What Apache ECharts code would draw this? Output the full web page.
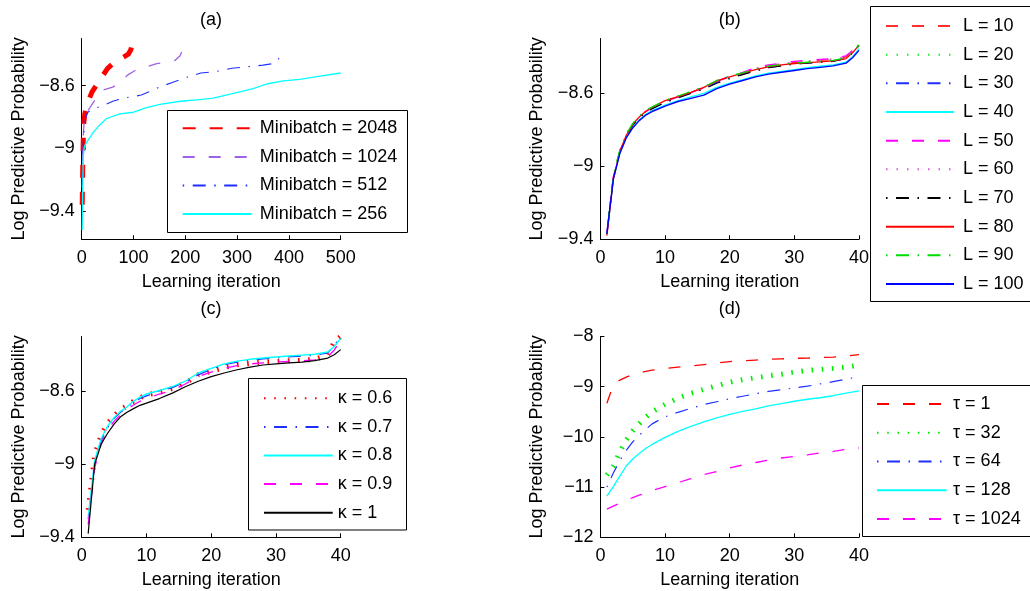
<!DOCTYPE html>
<html><head><meta charset="utf-8">
<script src="https://cdn.jsdelivr.net/npm/echarts@6/dist/echarts.min.js"></script>
<style>html,body{margin:0;padding:0;background:#fff}#c{width:1030px;height:591px}</style>
</head><body><div id="c"></div><script>
// ---------- Panel (a) ----------
const namesA = ['Minibatch = 2048','Minibatch = 1024','Minibatch = 512','Minibatch = 256'];
const iterA2048 = [1,2,3,4,6,10,15,20,30,40,50,60,70,80,90,95,98];
const valA2048  = [-9.36,-9.12,-8.95,-8.84,-8.78,-8.73,-8.68,-8.64,-8.59,-8.54,-8.49,-8.46,-8.44,-8.42,-8.40,-8.37,-8.33];
const iterA1024 = [1,2,3,5,8,12,20,30,40,50,60,70,80,90,100,110,125,145,165,180,190,196,199];
const valA1024  = [-9.25,-9.05,-8.92,-8.82,-8.78,-8.76,-8.72,-8.67,-8.63,-8.62,-8.61,-8.59,-8.56,-8.53,-8.51,-8.49,-8.48,-8.46,-8.45,-8.44,-8.41,-8.36,-8.33];
const iterA512  = [1,2,3,5,8,12,20,40,60,80,100,115,130,150,175,200,230,260,290,320,350,370,380,388];
const valA512   = [-9.30,-9.10,-8.97,-8.86,-8.80,-8.77,-8.75,-8.73,-8.70,-8.68,-8.67,-8.66,-8.64,-8.61,-8.58,-8.55,-8.52,-8.51,-8.49,-8.48,-8.47,-8.46,-8.43,-8.38];
const iterA256  = [1,2,3,5,8,12,16,22,32,48,74,100,125,151,190,228,254,293,331,357,389,421,460,500];
const valA256   = [-9.52,-9.25,-9.05,-8.99,-8.97,-8.95,-8.93,-8.90,-8.86,-8.81,-8.78,-8.77,-8.74,-8.72,-8.70,-8.69,-8.68,-8.65,-8.62,-8.59,-8.57,-8.56,-8.54,-8.52];

// ---------- Panel (b) ----------
const namesB = ['L = 10','L = 20','L = 30','L = 40','L = 50','L = 60','L = 70','L = 80','L = 90','L = 100'];
const iterB = [1,2,3,4,5,6,7,8,10,12,14,16,18,20,22,24,26,28,30,32,34,36,38,39,40];
const valB10  = [-9.37,-9.06,-8.92,-8.83,-8.77,-8.73,-8.70,-8.68,-8.645,-8.62,-8.595,-8.57,-8.535,-8.51,-8.49,-8.465,-8.45,-8.44,-8.432,-8.428,-8.42,-8.415,-8.40,-8.37,-8.33];
const valB20  = [-9.37,-9.05,-8.91,-8.82,-8.765,-8.725,-8.695,-8.675,-8.64,-8.615,-8.59,-8.565,-8.53,-8.505,-8.485,-8.465,-8.45,-8.44,-8.43,-8.425,-8.42,-8.415,-8.40,-8.37,-8.335];
const valB30  = [-9.37,-9.06,-8.92,-8.83,-8.775,-8.735,-8.705,-8.685,-8.65,-8.625,-8.60,-8.575,-8.54,-8.515,-8.495,-8.475,-8.46,-8.45,-8.44,-8.435,-8.43,-8.425,-8.41,-8.38,-8.34];
const valB40  = [-9.37,-9.07,-8.93,-8.84,-8.785,-8.745,-8.715,-8.695,-8.665,-8.64,-8.62,-8.60,-8.568,-8.545,-8.525,-8.505,-8.49,-8.48,-8.47,-8.46,-8.452,-8.445,-8.43,-8.40,-8.355];
const valB50  = [-9.37,-9.06,-8.92,-8.83,-8.77,-8.73,-8.70,-8.68,-8.645,-8.62,-8.595,-8.57,-8.535,-8.505,-8.485,-8.46,-8.445,-8.435,-8.425,-8.42,-8.415,-8.41,-8.395,-8.365,-8.33];
const valB60  = [-9.37,-9.06,-8.915,-8.825,-8.77,-8.73,-8.70,-8.68,-8.645,-8.62,-8.595,-8.57,-8.535,-8.51,-8.485,-8.462,-8.448,-8.438,-8.428,-8.423,-8.418,-8.412,-8.398,-8.368,-8.33];
const valB70  = [-9.37,-9.06,-8.92,-8.835,-8.775,-8.735,-8.705,-8.685,-8.65,-8.625,-8.60,-8.578,-8.545,-8.52,-8.498,-8.478,-8.46,-8.45,-8.44,-8.435,-8.43,-8.425,-8.41,-8.38,-8.338];
const valB80  = [-9.38,-9.07,-8.92,-8.83,-8.77,-8.73,-8.70,-8.677,-8.64,-8.618,-8.595,-8.568,-8.532,-8.51,-8.49,-8.47,-8.455,-8.445,-8.437,-8.432,-8.428,-8.423,-8.41,-8.378,-8.338];
const valB90  = [-9.37,-9.05,-8.91,-8.825,-8.765,-8.725,-8.695,-8.675,-8.64,-8.615,-8.59,-8.565,-8.53,-8.508,-8.488,-8.468,-8.452,-8.443,-8.435,-8.43,-8.425,-8.42,-8.405,-8.375,-8.335];
const valB100 = [-9.37,-9.07,-8.93,-8.845,-8.79,-8.75,-8.72,-8.70,-8.67,-8.645,-8.628,-8.61,-8.575,-8.55,-8.53,-8.51,-8.495,-8.485,-8.475,-8.465,-8.458,-8.45,-8.435,-8.405,-8.365];

// ---------- Panel (c) ----------
const namesC = ['κ = 0.6','κ = 0.7','κ = 0.8','κ = 0.9','κ = 1'];
const iterC = [1,2,3,4,5,6,7,8,9,10,12,14,16,18,20,22,24,26,28,30,32,34,36,38,39,40];
const valC06 = [-9.25,-8.95,-8.84,-8.775,-8.735,-8.70,-8.68,-8.655,-8.635,-8.62,-8.605,-8.585,-8.555,-8.51,-8.49,-8.47,-8.455,-8.447,-8.44,-8.437,-8.433,-8.43,-8.425,-8.40,-8.33,-8.30];
const valC07 = [-9.30,-9.00,-8.87,-8.80,-8.75,-8.715,-8.69,-8.66,-8.64,-8.625,-8.60,-8.58,-8.55,-8.51,-8.48,-8.455,-8.44,-8.43,-8.423,-8.418,-8.412,-8.408,-8.403,-8.39,-8.35,-8.295];
const valC08 = [-9.29,-8.98,-8.86,-8.79,-8.745,-8.71,-8.685,-8.655,-8.632,-8.615,-8.596,-8.575,-8.545,-8.50,-8.475,-8.45,-8.435,-8.425,-8.418,-8.412,-8.407,-8.402,-8.397,-8.385,-8.355,-8.31];
const valC09 = [-9.33,-9.02,-8.89,-8.81,-8.765,-8.73,-8.70,-8.675,-8.655,-8.64,-8.615,-8.595,-8.56,-8.52,-8.495,-8.475,-8.46,-8.45,-8.445,-8.44,-8.437,-8.433,-8.428,-8.41,-8.375,-8.32];
const valC1  = [-9.38,-9.00,-8.89,-8.83,-8.78,-8.74,-8.715,-8.695,-8.677,-8.665,-8.64,-8.61,-8.575,-8.545,-8.52,-8.50,-8.482,-8.468,-8.456,-8.45,-8.445,-8.44,-8.432,-8.418,-8.40,-8.372];

// ---------- Panel (d) ----------
const namesD = ['τ = 1','τ = 32','τ = 64','τ = 128','τ = 1024'];
const iterD = [1,2,3,4,5,6,7,8,10,12,14,16,18,20,22,24,26,28,30,32,34,36,38,40];
const valD1    = [-9.33,-8.96,-8.87,-8.81,-8.76,-8.725,-8.695,-8.67,-8.635,-8.61,-8.585,-8.56,-8.53,-8.50,-8.485,-8.47,-8.455,-8.445,-8.435,-8.43,-8.42,-8.41,-8.39,-8.36];
const valD32   = [-10.76,-10.58,-10.30,-10.06,-9.88,-9.74,-9.61,-9.50,-9.35,-9.23,-9.13,-9.05,-8.98,-8.91,-8.86,-8.82,-8.785,-8.75,-8.71,-8.675,-8.655,-8.635,-8.61,-8.57];
const valD64   = [-11.00,-10.72,-10.47,-10.27,-10.10,-9.97,-9.85,-9.74,-9.60,-9.51,-9.43,-9.355,-9.30,-9.24,-9.19,-9.14,-9.095,-9.06,-9.025,-8.99,-8.945,-8.90,-8.85,-8.80];
const valD128  = [-11.18,-10.99,-10.78,-10.58,-10.44,-10.33,-10.23,-10.15,-10.01,-9.89,-9.79,-9.70,-9.62,-9.55,-9.49,-9.44,-9.38,-9.335,-9.29,-9.25,-9.22,-9.18,-9.13,-9.085];
const valD1024 = [-11.44,-11.38,-11.32,-11.26,-11.21,-11.16,-11.12,-11.07,-10.99,-10.91,-10.83,-10.75,-10.69,-10.62,-10.56,-10.51,-10.46,-10.42,-10.39,-10.36,-10.32,-10.29,-10.25,-10.22];

// ---------- tick labels ----------
const yTicksABC = [-9.4, -9, -8.6];
const xTicksA = [0,100,200,300,400,500];
const xTicksBCD = [0,10,20,30,40];
const titles = ['(a)','(b)','(c)','(d)'];
const xName = 'Learning iteration';
const yName = 'Log Predictive Probability';

// ---------- styles ----------
const FONT = 'Liberation Sans, Arial, Helvetica, sans-serif';
const DASH = [12,14], DOT = [1.5,9], DASHDOT = [1.5,8.5,13,8.5], TDOT = [1.6,8.6];
const fmt = v => (v < 0 ? '\u2212' : '') + Math.abs(v);
const pair = (xs, ys) => xs.map((x, i) => [x, ys[i]]);

const grids = [
  {left: 81.7, top: 38.5, width: 259, height: 200.8},
  {left: 600.4, top: 38.5, width: 258.6, height: 200.8},
  {left: 81.7, top: 336.5, width: 259, height: 200.8},
  {left: 600.4, top: 336.5, width: 258.6, height: 200.8}
];
const axisCommon = {
  axisLine: {show: true, lineStyle: {color: '#000', width: 1}},
  axisTick: {show: true, inside: true, length: 4, lineStyle: {color: '#000'}},
  splitLine: {show: false},
  nameTextStyle: {fontSize: 18, fontFamily: FONT, color: '#000'},
  nameLocation: 'middle'
};
function xAx(gi, max, interval, ticks) {
  return Object.assign({}, axisCommon, {
    type: 'value', gridIndex: gi, min: 0, max: max, interval: interval,
    name: xName, nameGap: 34,
    axisTick: Object.assign({}, axisCommon.axisTick, {customValues: ticks}),
    axisLabel: {fontSize: 18, fontFamily: FONT, color: '#000', margin: 10, customValues: ticks, formatter: fmt}
  });
}
function yAx(gi, min, max, ticks, interval) {
  const o = Object.assign({}, axisCommon, {
    type: 'value', gridIndex: gi, min: min, max: max,
    name: yName, nameGap: 54,
    axisLabel: {fontSize: 18, fontFamily: FONT, color: '#000', margin: 7, formatter: fmt}
  });
  if (ticks) {
    o.axisLabel.customValues = ticks;
    o.axisTick = Object.assign({}, axisCommon.axisTick, {customValues: ticks});
  } else {
    o.interval = interval;
  }
  return o;
}
function ser(name, gi, xs, ys, color, width, type) {
  return {
    name: name, type: 'line', xAxisIndex: gi, yAxisIndex: gi,
    data: pair(xs, ys), symbol: 'none', showSymbol: false, smooth: false,
    silent: true, animation: false,
    lineStyle: {color: color, width: width, type: type, cap: 'butt', join: 'round'},
    emphasis: {disabled: true}
  };
}
function leg(names, left, top, iw, gap, padL) {
  return {
    data: names, orient: 'vertical', left: left, top: top, padding: 0,
    itemWidth: iw, itemHeight: 18, itemGap: gap, selectedMode: false,
    itemStyle: {opacity: 0},
    textStyle: {fontSize: 18, fontFamily: FONT, color: '#000', padding: [0,0,0,padL], lineHeight: 18},
    z: 10
  };
}
function box(x, y, w, h) {
  return {type: 'rect', z: 5, silent: true, shape: {x: x, y: y, width: w, height: h},
    style: {fill: '#fff', stroke: '#000', lineWidth: 1}};
}
function ttl(t, x, y) {
  return {type: 'text', z: 5, silent: true, x: x, y: y,
    style: {text: t, fill: '#000', font: '18px ' + FONT, align: 'center', verticalAlign: 'middle', textAlign: 'center', textVerticalAlign: 'middle'}};
}

const series = [
  ser(namesA[0], 0, iterA2048, valA2048, '#ff0000', 5, [13,14]),
  ser(namesA[1], 0, iterA1024, valA1024, '#9d62e6', 1.3, DASH),
  ser(namesA[2], 0, iterA512, valA512, '#1f2fff', 1.1, DASHDOT),
  ser(namesA[3], 0, iterA256, valA256, '#00ffff', 1.3, 'solid'),

  ser(namesB[0], 1, iterB, valB10, '#ff3030', 1.3, DASH),
  ser(namesB[1], 1, iterB, valB20, '#22ee22', 1.3, DOT),
  ser(namesB[2], 1, iterB, valB30, '#1f2fff', 1.3, DASHDOT),
  ser(namesB[3], 1, iterB, valB40, '#00ffff', 1.3, 'solid'),
  ser(namesB[4], 1, iterB, valB50, '#ff00ff', 1.3, DASH),
  ser(namesB[5], 1, iterB, valB60, '#dd55dd', 1.3, DOT),
  ser(namesB[6], 1, iterB, valB70, '#000000', 1.1, DASHDOT),
  ser(namesB[7], 1, iterB, valB80, '#ff0000', 1.3, 'solid'),
  ser(namesB[8], 1, iterB, valB90, '#00dd00', 1.3, DASHDOT),
  ser(namesB[9], 1, iterB, valB100, '#0000ff', 1.4, 'solid'),

  ser(namesC[0], 2, iterC, valC06, '#ff0000', 5, TDOT),
  ser(namesC[1], 2, iterC, valC07, '#1f2fff', 1.2, DASHDOT),
  ser(namesC[2], 2, iterC, valC08, '#00ffff', 1.4, 'solid'),
  ser(namesC[3], 2, iterC, valC09, '#ff00ff', 1.3, DASH),
  ser(namesC[4], 2, iterC, valC1, '#000000', 1.2, 'solid'),

  ser(namesD[0], 3, iterD, valD1, '#ff0000', 1.3, DASH),
  ser(namesD[1], 3, iterD, valD32, '#00ee00', 5, TDOT),
  ser(namesD[2], 3, iterD, valD64, '#1f2fff', 1.2, DASHDOT),
  ser(namesD[3], 3, iterD, valD128, '#00ffff', 1.3, 'solid'),
  ser(namesD[4], 3, iterD, valD1024, '#ff00ff', 1.3, DASH)
];

const chart = echarts.init(document.getElementById('c'), null, {renderer: 'canvas'});
chart.setOption({
  animation: false,
  backgroundColor: '#fff',
  grid: grids,
  xAxis: [xAx(0, 500, 100, xTicksA), xAx(1, 40, 10, xTicksBCD), xAx(2, 40, 10, xTicksBCD), xAx(3, 40, 10, xTicksBCD)],
  yAxis: [yAx(0, -9.58, -8.3, yTicksABC), yAx(1, -9.4, -8.3, yTicksABC), yAx(2, -9.4, -8.3, yTicksABC), yAx(3, -12, -8, null, 1)],
  legend: [
    leg(namesA, 181.7, 119.3, 69, 10.6, 3),
    leg(namesB, 885, 17, 68, 10.67, 4),
    leg(namesC, 263, 389.3, 68.7, 10.6, 0),
    leg(namesD, 876, 395, 69.6, 10.75, 1.4)
  ],
  graphic: [
    ttl(titles[0], 211, 20), ttl(titles[1], 729.7, 20), ttl(titles[2], 211, 309), ttl(titles[3], 729.7, 309),
    box(167.5, 110.5, 240, 122),
    box(870.5, 6.5, 200, 295),
    box(248.5, 378.5, 158, 151.5),
    box(862.5, 385.5, 200, 151)
  ],
  series: series
});
</script></body></html>
